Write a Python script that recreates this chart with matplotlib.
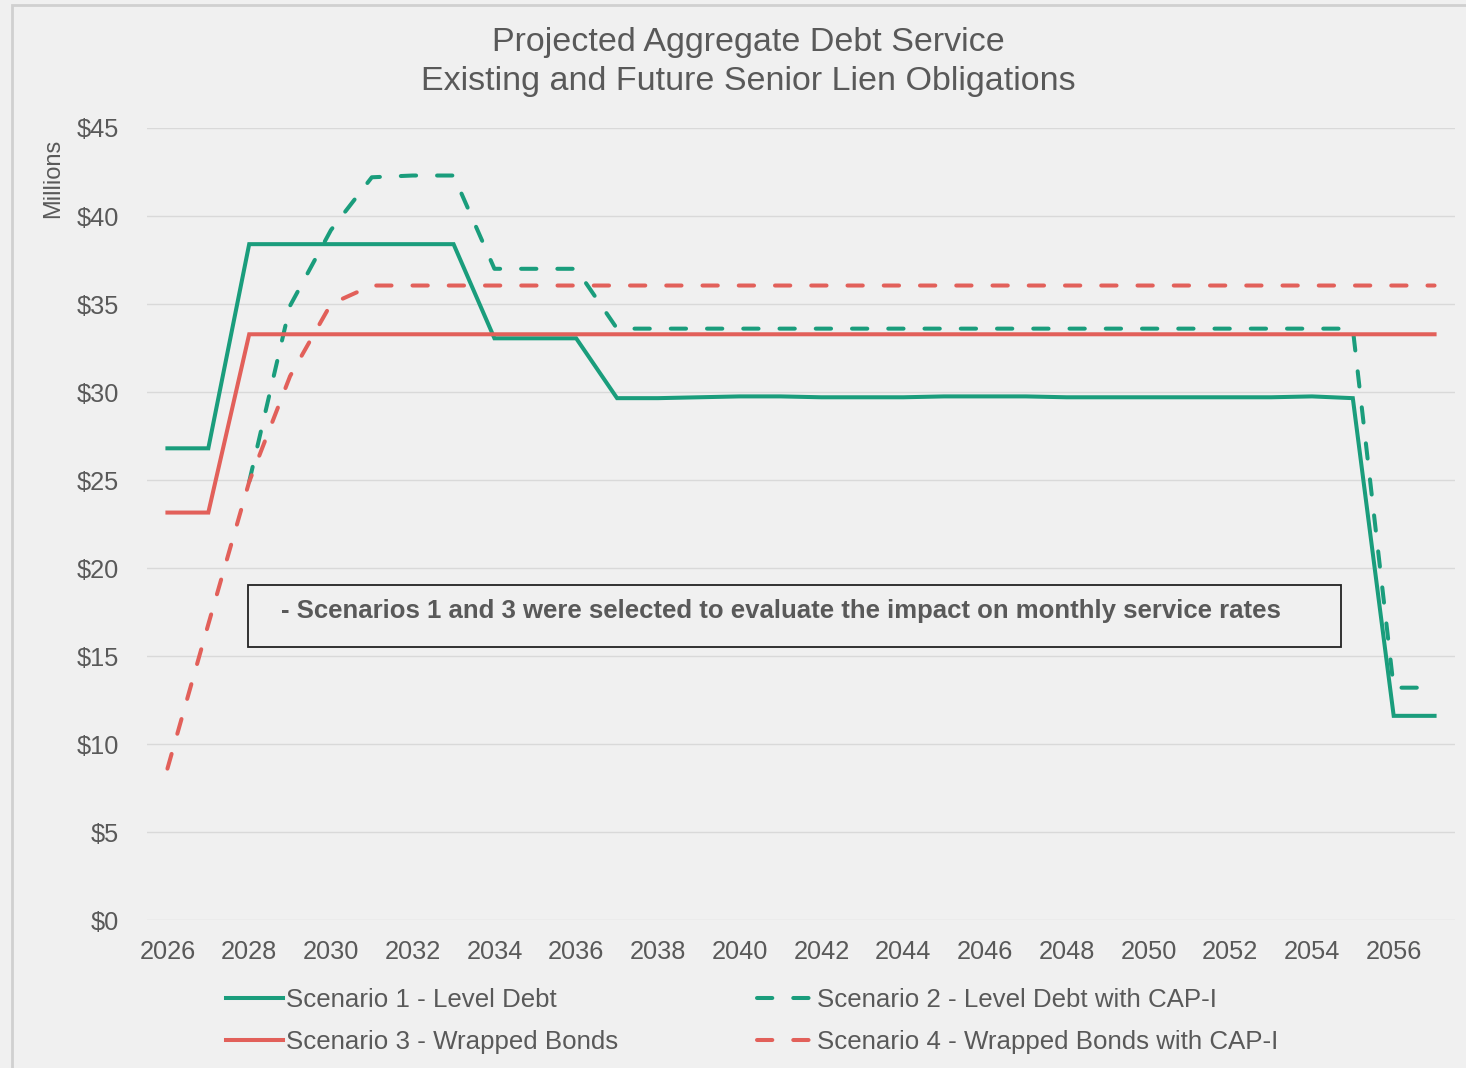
import numpy as np
import matplotlib
matplotlib.use("Agg")
import matplotlib.pyplot as plt
from matplotlib.patches import Rectangle

# Data (millions of dollars)
years = list(range(2026, 2058))
s1_level = [26.8, 26.8, 38.4, 38.4, 38.4, 38.4, 38.4, 38.4, 33.05, 33.05, 33.05,
            29.65, 29.65, 29.7, 29.75, 29.75, 29.7, 29.7, 29.7, 29.75, 29.75,
            29.75, 29.7, 29.7, 29.7, 29.7, 29.7, 29.7, 29.75, 29.65, 11.6, 11.6]
# first two years are hidden under scenario 4 in the original
s2_level_capi = [np.nan, np.nan, 24.9, 34.9, 39.2, 42.2, 42.3, 42.3, 37.0, 37.0, 37.0,
                 33.6, 33.6, 33.6, 33.6, 33.6, 33.6, 33.6, 33.6, 33.6, 33.6,
                 33.6, 33.6, 33.6, 33.6, 33.6, 33.6, 33.6, 33.6, 33.6, 13.2, 13.2]
s3_wrapped = [23.15, 23.15] + [33.28] * 30
s4_wrapped_capi = [8.6, 16.8, 24.9, 30.9, 35.0] + [36.05] * 27

labels = ["Scenario 1 - Level Debt", "Scenario 2 - Level Debt with CAP-I",
          "Scenario 3 - Wrapped Bonds", "Scenario 4 - Wrapped Bonds with CAP-I"]
y_ticks = [0, 5, 10, 15, 20, 25, 30, 35, 40, 45]
x_ticks = list(range(2026, 2057, 2))

green = '#1a9d7c'
red = '#e2605a'
text_col = '#595959'
bg = '#f0f0f0'

plt.rcParams['font.family'] = ['Liberation Sans', 'DejaVu Sans']

fig = plt.figure(figsize=(14.66, 10.68), dpi=100, facecolor=bg)
ax = fig.add_axes([147/1466, 1 - 920/1068, 1308/1466, 792/1068])
ax.set_facecolor(bg)

lw = 2.9
dash = (3.8, 5.2)
h1, = ax.plot(years, s1_level, color=green, lw=lw, solid_joinstyle='miter')
h2, = ax.plot(years, s2_level_capi, color=green, lw=lw, dashes=dash,
              dash_capstyle='round')
h3, = ax.plot(years, s3_wrapped, color=red, lw=lw, solid_joinstyle='miter')
h4, = ax.plot(years, s4_wrapped_capi, color=red, lw=lw, dashes=dash,
              dash_capstyle='round')

ax.set_xlim(2025.5, 2057.5)
ax.set_ylim(0, 45)
ax.set_xticks(x_ticks)
ax.set_xticklabels([str(y) for y in x_ticks])
ax.set_yticks(y_ticks)
ax.set_yticklabels(['$%d' % v for v in y_ticks])
ax.tick_params(axis='both', length=0, labelsize=18.3, colors=text_col)
ax.tick_params(axis='y', pad=20)
ax.tick_params(axis='x', pad=14.5)
ax.grid(axis='y', color='#d9d9d9', lw=1)
ax.set_axisbelow(True)
for s in ax.spines.values():
    s.set_visible(False)

fig.text(53/1466, 1 - 178/1068, 'Millions', rotation=90, ha='center', va='center',
         fontsize=17, color=text_col)

fig.text(748/1466, 1 - 62/1068,
         'Projected Aggregate Debt Service\nExisting and Future Senior Lien Obligations',
         ha='center', va='center', fontsize=24.5, color=text_col, linespacing=1.32)

# note box
ax.add_patch(Rectangle((0.0772, 0.3447), 0.8356, 0.0783, transform=ax.transAxes,
                       fill=False, edgecolor='#222222', lw=1.3, zorder=5))
ax.text(0.4847, 0.390,
        '- Scenarios 1 and 3 were selected to evaluate the impact on monthly service rates',
        transform=ax.transAxes, ha='center', va='center', fontsize=18.5,
        fontweight='bold', color=text_col, zorder=6)

leg = fig.legend([h1, h3, h2, h4], [labels[0], labels[2], labels[1], labels[3]],
                 ncol=2, loc='center', bbox_to_anchor=(0.513, 0.044),
                 frameon=False, fontsize=18.6, handlelength=2.2, handletextpad=0.1,
                 columnspacing=5.4, labelspacing=0.7)
for t in leg.get_texts():
    t.set_color(text_col)

# outer chart frame
fig.patches.append(Rectangle((12/1466, -0.1), 1.2, 1 - 5/1068 + 0.1,
                             transform=fig.transFigure, fill=False,
                             edgecolor='#d0d0d0', lw=2))

fig.savefig('out.png', dpi=100, facecolor=bg)
